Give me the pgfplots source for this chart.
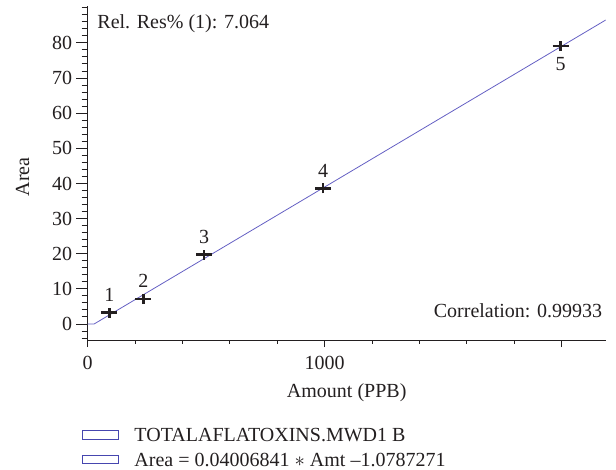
\documentclass[border=0pt]{standalone}
\usepackage{fontspec}
\setmainfont{Liberation Serif}
\usepackage{pgfplots}
\pgfplotsset{compat=1.18}
\definecolor{fitblue}{RGB}{100,95,195}
\definecolor{legblue}{RGB}{70,70,175}
\definecolor{ink}{RGB}{35,31,32}

% wide plus mark as in the reference
\pgfdeclareplotmark{wideplus}{%
  \pgfpathmoveto{\pgfpoint{-8bp}{0bp}}\pgfpathlineto{\pgfpoint{8bp}{0bp}}%
  \pgfpathmoveto{\pgfpoint{0bp}{-5bp}}\pgfpathlineto{\pgfpoint{0bp}{5bp}}%
  \pgfusepathqstroke}

\newcommand{\chartfont}{\fontsize{20bp}{24bp}\selectfont}

\begin{document}
\begin{tikzpicture}
\begin{axis}[
    at={(0,0)}, anchor=south west,
    scale only axis, width=518bp, height=334.7bp,
    xmin=0, xmax=2186, ymin=-4.75, ymax=90.5,
    axis x line*=bottom, axis y line*=left,
    axis line style={ink, line width=1bp},
    tick align=outside,
    tick style={ink, line width=1bp},
    major tick length=9bp, minor tick length=4.5bp,
    xtick style={/pgfplots/major tick length=6.5bp, /pgfplots/minor tick length=3bp},
    ytick style={/pgfplots/major tick length=11.5bp, /pgfplots/minor tick length=6bp},
    xtick={0,1000,2000}, xticklabels={0,1000,},
    minor xtick={200,400,600,800,1200,1400,1600,1800},
    ytick={0,10,...,80},
    minor ytick={-4,-2,...,90},
    font=\chartfont,
    /pgf/number format/assume math mode=true,
    ticklabel style={ink},
    xticklabel style={yshift=-3bp},
    yticklabel style={xshift=-3bp},
    xlabel={Amount (PPB)}, ylabel={Area},
    xlabel style={at={(axis description cs:0.5,-0.171)}, anchor=base, ink},
    ylabel style={at={(axis description cs:-0.1133,0.49)}, anchor=base, ink},
    legend style={at={(axis description cs:-0.011,-0.26)}, anchor=north west,
      draw=none, fill=none, inner sep=0pt, row sep=10.5bp,
      nodes={inner sep=0pt, text height=14bp, text depth=0pt},
      font=\chartfont, text=ink},
    legend cell align=left,
    legend image code/.code={\draw[#1] (0bp,-4.35bp) rectangle (36bp,4.35bp); \path (51.3bp,0bp);},
  ]
\addplot[fitblue, line width=0.8pt, no marks, forget plot]
  coordinates {(0,0) (26.92,0) (2186,86.51)};
\addplot[only marks, mark=wideplus, line width=2.6bp, ink, forget plot,
    nodes near coords, point meta=explicit symbolic,
    nodes near coords style={anchor=south, yshift=6.5bp, text=ink, font=\chartfont}]
  table[meta=lab] {
x y lab
91 3.2 1
235 7.1 2
491 19.7 3
993 38.6 4
};
\addplot[only marks, mark=wideplus, line width=2.6bp, ink, forget plot,
    nodes near coords, point meta=explicit symbolic,
    nodes near coords style={anchor=north, yshift=-6.4bp, text=ink, font=\chartfont}]
  table[meta=lab] {
x y lab
1996 79.1 5
};
\addlegendimage{legblue, line width=1bp}
\addlegendentry{TOTALAFLATOXINS.MWD1 B}
\addlegendimage{legblue, line width=1bp}
\addlegendentry{Area = 0.04006841 $\ast$ Amt –1.0787271}
\node[anchor=base west, text=ink] at (rel axis cs:0.012,0.934) {Rel. Res\% (1): 7.064};
\node[anchor=base east, text=ink] at (rel axis cs:1,0.07) {Correlation: 0.99933};
\end{axis}
\path (-87.7bp,-129.3bp) rectangle (528.3bp,340.7bp);
\end{tikzpicture}
\end{document}
